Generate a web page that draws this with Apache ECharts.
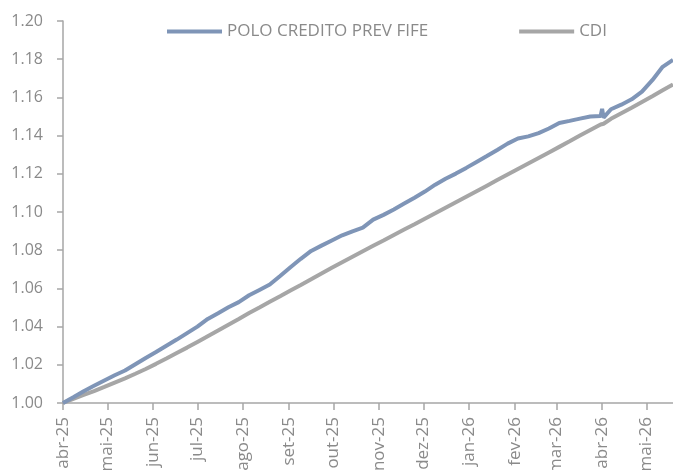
<!DOCTYPE html>
<html>
<head>
<meta charset="utf-8">
<script src="https://cdn.jsdelivr.net/npm/echarts@6/dist/echarts.min.js"></script>
<style>
  html, body { margin: 0; padding: 0; background: #fff; }
  #chart { width: 673px; height: 470px; }
</style>
</head>
<body>
<div id="chart"></div>
<script>
// weekly dates (plus the spike around 1 Apr 2026)
var dates = [
  '2025-04-01','2025-04-08','2025-04-15','2025-04-22','2025-04-29','2025-05-06','2025-05-13','2025-05-20','2025-05-27',
  '2025-06-03','2025-06-10','2025-06-17','2025-06-24','2025-07-01','2025-07-08','2025-07-15','2025-07-22','2025-07-29',
  '2025-08-05','2025-08-12','2025-08-19','2025-08-26','2025-09-02','2025-09-09','2025-09-16','2025-09-23','2025-09-30',
  '2025-10-07','2025-10-14','2025-10-21','2025-10-28','2025-11-04','2025-11-11','2025-11-18','2025-11-25','2025-12-02',
  '2025-12-09','2025-12-16','2025-12-23','2025-12-30','2026-01-06','2026-01-13','2026-01-20','2026-01-27','2026-02-03',
  '2026-02-10','2026-02-17','2026-02-24','2026-03-03','2026-03-10','2026-03-17','2026-03-24','2026-03-31','2026-04-01',
  '2026-04-02','2026-04-07','2026-04-14','2026-04-21','2026-04-28','2026-05-05','2026-05-12','2026-05-19'
];
var polo = [
  1.0000,1.0030,1.0062,1.0090,1.0118,1.0145,1.0170,1.0203,1.0236,
  1.0267,1.0300,1.0332,1.0366,1.0400,1.0440,1.0470,1.0501,1.0528,
  1.0564,1.0592,1.0620,1.0665,1.0711,1.0755,1.0796,1.0824,1.0851,
  1.0878,1.0899,1.0918,1.0960,1.0985,1.1013,1.1044,1.1075,1.1107,
  1.1143,1.1174,1.1201,1.1231,1.1262,1.1293,1.1325,1.1358,1.1385,
  1.1396,1.1413,1.1437,1.1466,1.1477,1.1489,1.1500,1.1503,1.1540,
  1.1494,1.1538,1.1562,1.1590,1.1630,1.1690,1.1760,1.1796
];
var cdi = [
  1.0000,1.0022,1.0042,1.0062,1.0084,1.0107,1.0129,1.0153,1.0178,
  1.0205,1.0233,1.0262,1.0290,1.0320,1.0350,1.0380,1.0410,1.0440,
  1.0471,1.0500,1.0530,1.0559,1.0589,1.0618,1.0648,1.0678,1.0708,
  1.0737,1.0766,1.0795,1.0823,1.0851,1.0880,1.0908,1.0936,1.0965,
  1.0993,1.1022,1.1051,1.1080,1.1109,1.1138,1.1167,1.1196,1.1225,
  1.1254,1.1283,1.1312,1.1341,1.1370,1.1400,1.1429,1.1458,1.1459,
  1.1462,1.1488,1.1517,1.1546,1.1576,1.1606,1.1637,1.1668
];
var monthNames = ['jan','fev','mar','abr','mai','jun','jul','ago','set','out','nov','dez'];
var seriesNames = ['POLO CREDITO PREV FIFE', 'CDI'];

var textColor = '#8a8a8a';
var axisColor = '#a6a6a6';
var font = 'Open Sans';

function pairs(vals) {
  return dates.map(function (d, i) { return [d, vals[i]]; });
}

var option = {
  animation: false,
  textStyle: { fontFamily: font },
  legend: {
    left: 162,
    top: 18,
    icon: 'rect',
    itemWidth: 55,
    itemHeight: 4,
    itemGap: 91,
    textStyle: { color: textColor, fontSize: 17, fontFamily: font },
    data: seriesNames
  },
  grid: { left: 63, right: 0, top: 21, bottom: 67, outerBoundsMode: 'none', containLabel: false },
  xAxis: {
    type: 'time',
    min: '2025-04-01',
    max: '2026-05-19',
    minInterval: 28 * 86400000,
    maxInterval: 31 * 86400000,
    axisLine: { show: true, lineStyle: { color: axisColor, width: 1.5 } },
    axisTick: { show: true, length: 7, lineStyle: { color: axisColor, width: 1.5 } },
    splitLine: { show: false },
    axisLabel: {
      rotate: 90,
      margin: 14,
      color: textColor,
      fontSize: 17,
      fontFamily: font,
      formatter: function (v) {
        var d = new Date(v);
        return monthNames[d.getMonth()] + '-' + String(d.getFullYear()).slice(2);
      }
    }
  },
  yAxis: {
    type: 'value',
    min: 1.0,
    max: 1.2,
    interval: 0.02,
    axisLine: { show: true, lineStyle: { color: axisColor, width: 1.5 } },
    axisTick: { show: true, length: 6, lineStyle: { color: axisColor, width: 1.5 } },
    splitLine: { show: false },
    axisLabel: {
      margin: 20,
      color: textColor,
      fontSize: 16,
      fontFamily: font,
      formatter: function (v) { return v.toFixed(2); }
    }
  },
  series: [
    {
      name: seriesNames[0],
      type: 'line',
      symbol: 'none',
      data: pairs(polo),
      lineStyle: { color: '#7f95b7', width: 4 },
      itemStyle: { color: '#7f95b7' },
      z: 3
    },
    {
      name: seriesNames[1],
      type: 'line',
      symbol: 'none',
      data: pairs(cdi),
      lineStyle: { color: '#a6a6a6', width: 4 },
      itemStyle: { color: '#a6a6a6' },
      z: 2
    }
  ]
};

var chart = echarts.init(document.getElementById('chart'));
chart.setOption(option);
</script>
</body>
</html>
